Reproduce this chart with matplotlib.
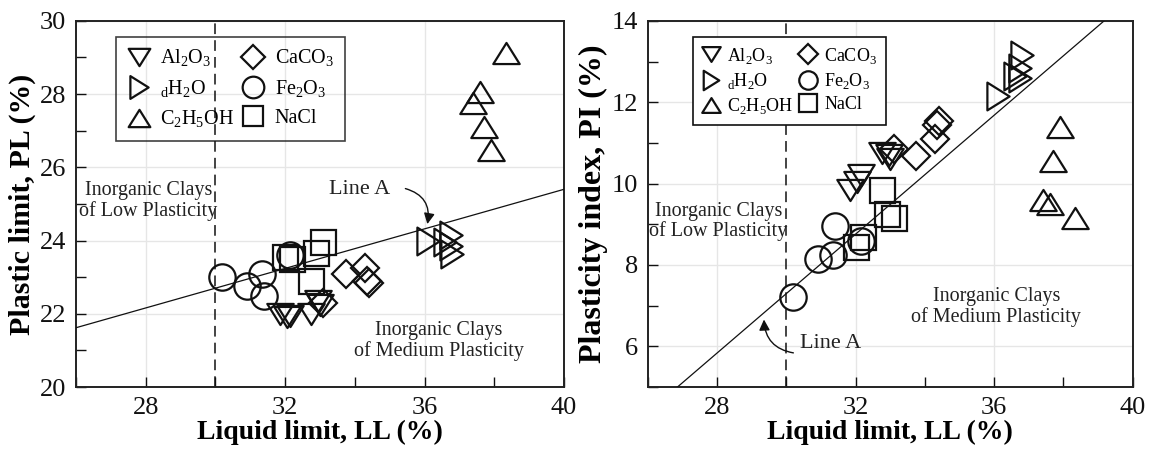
import numpy as np
import matplotlib.pyplot as plt
from matplotlib.path import Path

plt.rcParams['font.family'] = ['Liberation Serif', 'DejaVu Serif']
plt.rcParams['mathtext.fontset'] = 'custom'
plt.rcParams['mathtext.rm'] = 'Liberation Serif'

# --- data --------------------------------------------------------------
al_ll = [31.85, 32.05, 32.15, 32.75, 32.95, 33.0]
al_pl = [22.0, 21.9, 21.95, 22.0, 22.35, 22.25]
al_pi = [9.85, 10.05, 10.2, 10.75, 10.7, 10.6]

dh_ll = [36.1, 36.6, 36.75, 36.75, 36.8]
dh_pl = [24.0, 23.95, 24.15, 23.85, 23.62]
dh_pi = [12.15, 12.65, 12.6, 12.85, 13.15]

et_ll = [38.35, 37.6, 37.4, 37.7, 37.9]
et_pl = [29.13, 28.07, 27.77, 27.09, 26.47]
et_pi = [9.15, 9.5, 9.6, 10.55, 11.4]

ca_ll = [33.1, 33.75, 34.3, 34.35, 34.4]
ca_pl = [22.3, 23.08, 23.25, 22.9, 22.85]
ca_pi = [10.85, 10.67, 11.1, 11.45, 11.55]

fe_ll = [30.2, 30.9, 31.35, 31.4, 32.15]
fe_pl = [23.0, 22.75, 23.1, 22.5, 23.6]
fe_pi = [7.22, 8.15, 8.25, 8.95, 8.6]

na_ll = [32.0, 32.2, 32.75, 32.9, 33.1]
na_pl = [23.55, 23.5, 22.9, 23.65, 23.95]
na_pi = [8.45, 8.7, 9.85, 9.25, 9.15]

labels = [r'Al$_\mathregular{2}$O$_\mathregular{3}$',
          r'$_\mathregular{d}$H$_\mathregular{2}$O',
          r'C$_\mathregular{2}$H$_\mathregular{5}$OH',
          r'CaCO$_\mathregular{3}$',
          r'Fe$_\mathregular{2}$O$_\mathregular{3}$',
          'NaCl']

# slightly flattened triangles like the original
tri_down = Path([(-1, 0.8), (1, 0.8), (0, -0.8), (-1, 0.8)],
                [Path.MOVETO, Path.LINETO, Path.LINETO, Path.CLOSEPOLY])
tri_up = Path([(-1, -0.8), (1, -0.8), (0, 0.8), (-1, -0.8)],
              [Path.MOVETO, Path.LINETO, Path.LINETO, Path.CLOSEPOLY])
tri_right = Path([(-0.8, 1), (-0.8, -1), (0.8, 0), (-0.8, 1)],
                 [Path.MOVETO, Path.LINETO, Path.LINETO, Path.CLOSEPOLY])

styles = [(tri_down, 19), (tri_right, 20), (tri_up, 19),
          ('D', 14.3), ('o', 19), ('s', 18)]

LL_A = np.array([26.0, 40.0])
INK = '#111111'
TXT = '#222222'


def draw_panel(ax, series, ylim, major_y, minor_y, ylabel, ylab_size):
    for (ll, yv), (mk, ms), lab in zip(series, styles, labels):
        ax.plot(ll, yv, ls='none', marker=mk, ms=ms, mfc='none', mec=INK,
                mew=1.6, label=lab, zorder=4)
    ax.axvline(30, color=INK, lw=1.1, dashes=(7, 4), zorder=2)
    ax.set_xlim(26, 40)
    ax.set_ylim(*ylim)
    ax.set_xticks([28, 32, 36, 40])
    ax.set_xticks([26, 30, 34, 38], minor=True)
    ax.set_yticks(major_y)
    ax.set_yticks(minor_y, minor=True)
    ax.tick_params(which='both', direction='in', length=7, width=1,
                   labelsize=19, pad=7, colors=INK)
    ax.grid(True, which='major', color='#e6e6e6', lw=1, zorder=0)
    ax.set_axisbelow(True)
    for sp in ax.spines.values():
        sp.set_linewidth(1.4)
        sp.set_color('#222222')
    ax.set_xlabel('Liquid limit, LL (%)', fontsize=20, fontweight='bold',
                  labelpad=1)
    ax.set_ylabel(ylabel, fontsize=ylab_size, fontweight='bold', labelpad=3)


fig = plt.figure(figsize=(11.51, 4.63), dpi=100)
ax1 = fig.add_axes([0.066, 0.164, 0.424, 0.791])
ax2 = fig.add_axes([0.563, 0.164, 0.421, 0.791])

# left: plastic limit
draw_panel(ax1, [(al_ll, al_pl), (dh_ll, dh_pl), (et_ll, et_pl),
                 (ca_ll, ca_pl), (fe_ll, fe_pl), (na_ll, na_pl)],
           (20, 30), [20, 22, 24, 26, 28, 30], [21, 23, 25, 27, 29],
           'Plastic limit, PL (%)', 21.5)
ax1.plot(LL_A, LL_A - 0.73 * (LL_A - 20), color=INK, lw=0.9, zorder=3)
ax1.text(28.08, 25.08, 'Inorganic Clays\nof Low Plasticity', ha='center',
         va='center', fontsize=14.5, linespacing=1.05, color=TXT)
ax1.text(36.4, 21.26, 'Inorganic Clays\nof Medium Plasticity', ha='center',
         va='center', fontsize=14.5, linespacing=1.05, color=TXT)
ax1.text(34.13, 25.4, 'Line A', ha='center', va='center', fontsize=16,
         color=TXT)
ax1.annotate('', xy=(36.08, 24.45), xytext=(35.45, 25.42),
             arrowprops=dict(arrowstyle='-|>', color=INK, lw=1,
                             connectionstyle='arc3,rad=-0.45',
                             shrinkA=0, shrinkB=0, mutation_scale=16))
leg1 = ax1.legend(ncol=2, loc='upper left', bbox_to_anchor=(0.082, 0.956),
                  borderaxespad=0, fontsize=14.5, markerscale=0.82,
                  fancybox=False, edgecolor=INK, facecolor='none',
                  handlelength=1.2, handletextpad=0.45, columnspacing=0.35,
                  labelspacing=0.45, borderpad=0.55)
leg1.get_frame().set_linewidth(1.2)

# right: plasticity index
draw_panel(ax2, [(al_ll, al_pi), (dh_ll, dh_pi), (et_ll, et_pi),
                 (ca_ll, ca_pi), (fe_ll, fe_pi), (na_ll, na_pi)],
           (5, 14), [6, 8, 10, 12, 14], [5, 7, 9, 11, 13],
           'Plasticity index, PI (%)', 23)
ax2.plot(LL_A, 0.73 * (LL_A - 20), color=INK, lw=0.9, zorder=3)
ax2.text(28.04, 9.07, 'Inorganic Clays\nof Low Plasticity', ha='center',
         va='center', fontsize=14.5, linespacing=1.05, color=TXT)
ax2.text(36.06, 6.96, 'Inorganic Clays\nof Medium Plasticity', ha='center',
         va='center', fontsize=14.5, linespacing=1.05, color=TXT)
ax2.text(31.27, 6.06, 'Line A', ha='center', va='center', fontsize=16,
         color=TXT)
ax2.annotate('', xy=(29.35, 6.66), xytext=(30.2, 5.84),
             arrowprops=dict(arrowstyle='-|>', color=INK, lw=1,
                             connectionstyle='arc3,rad=-0.4',
                             shrinkA=0, shrinkB=0, mutation_scale=16))
leg2 = ax2.legend(ncol=2, loc='upper left', bbox_to_anchor=(0.092, 0.957),
                  borderaxespad=0, fontsize=13, markerscale=0.7,
                  fancybox=False, edgecolor=INK, facecolor='white',
                  framealpha=1, handlelength=1.0, handletextpad=0.4,
                  columnspacing=0.3, labelspacing=0.3, borderpad=0.5)
leg2.get_frame().set_linewidth(1.2)

fig.savefig('out.png', dpi=100)
